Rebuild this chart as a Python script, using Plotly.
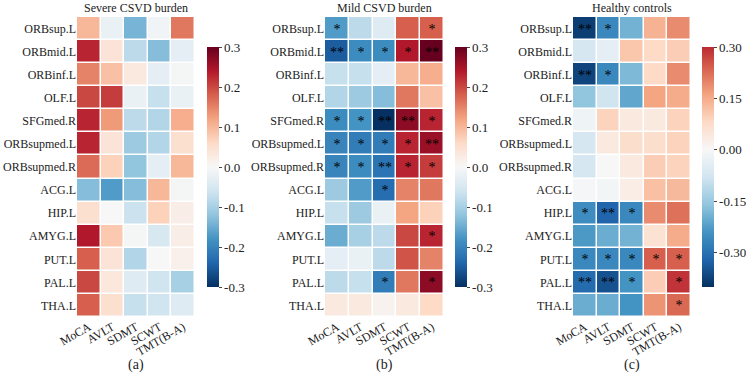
import plotly.graph_objects as go
from plotly.colors import sample_colorscale

regions = ["ORBsup.L", "ORBmid.L", "ORBinf.L", "OLF.L", "SFGmed.R", "ORBsupmed.L",
           "ORBsupmed.R", "ACG.L", "HIP.L", "AMYG.L", "PUT.L", "PAL.L", "THA.L"]
tests = ["MoCA", "AVLT", "SDMT", "SCWT", "TMT(B-A)"]

severe = [
    [0.10, -0.02, -0.14, -0.01, 0.16],
    [0.23, 0.04, -0.08, -0.13, -0.03],
    [0.15, 0.09, 0.03, -0.03, -0.005],
    [0.20, 0.21, -0.02, -0.07, -0.02],
    [0.23, 0.13, -0.08, -0.09, 0.11],
    [0.23, 0.04, -0.11, -0.09, 0.05],
    [0.17, 0.07, -0.12, -0.03, 0.10],
    [-0.13, -0.17, -0.13, 0.10, -0.005],
    [0.05, 0.0, -0.065, 0.07, 0.02],
    [0.24, 0.08, -0.005, -0.05, 0.02],
    [0.18, 0.04, -0.09, 0.0, 0.015],
    [0.20, 0.035, -0.04, -0.06, -0.10],
    [0.18, 0.05, -0.07, -0.06, -0.04],
]
severe_sig = [[""] * 5 for _ in regions]

mild = [
    [-0.17, -0.08, -0.04, 0.18, 0.18],
    [-0.25, -0.19, -0.19, 0.24, 0.30],
    [-0.07, -0.07, -0.03, 0.10, 0.11],
    [-0.09, -0.11, -0.13, 0.16, 0.09],
    [-0.19, -0.18, -0.30, 0.27, 0.23],
    [-0.20, -0.21, -0.21, 0.23, 0.26],
    [-0.20, -0.19, -0.22, 0.23, 0.21],
    [-0.11, -0.17, -0.23, 0.15, 0.16],
    [-0.07, -0.11, -0.02, 0.12, 0.07],
    [-0.15, -0.10, -0.08, 0.20, 0.23],
    [-0.03, -0.02, -0.08, 0.19, 0.15],
    [-0.08, -0.07, -0.21, 0.16, 0.27],
    [0.03, 0.03, 0.01, 0.03, 0.06],
]
mild_sig = [
    ["*", "", "", "", "*"],
    ["**", "*", "*", "*", "**"],
    ["", "", "", "", ""],
    ["", "", "", "", ""],
    ["*", "*", "**", "**", "*"],
    ["*", "*", "*", "*", "**"],
    ["*", "*", "**", "*", "*"],
    ["", "", "*", "", ""],
    ["", "", "", "", ""],
    ["", "", "", "", "*"],
    ["", "", "", "", ""],
    ["", "", "*", "", "*"],
    ["", "", "", "", ""],
]

healthy = [
    [-0.38, -0.26, -0.19, 0.14, 0.19],
    [-0.07, -0.04, 0.11, 0.08, 0.10],
    [-0.37, -0.26, -0.18, 0.08, 0.19],
    [-0.16, -0.08, -0.21, 0.16, 0.15],
    [-0.02, 0.09, 0.04, 0.04, 0.09],
    [-0.07, 0.04, 0.07, 0.07, 0.09],
    [-0.07, 0.0, 0.04, 0.10, 0.09],
    [-0.005, -0.01, 0.03, 0.12, 0.13],
    [-0.25, -0.32, -0.26, 0.19, 0.22],
    [-0.23, -0.20, -0.19, 0.06, 0.15],
    [-0.26, -0.26, -0.26, 0.24, 0.24],
    [-0.31, -0.35, -0.24, 0.10, 0.29],
    [-0.20, -0.20, -0.24, 0.18, 0.23],
]
healthy_sig = [
    ["**", "*", "", "", ""],
    ["", "", "", "", ""],
    ["**", "*", "", "", ""],
    ["", "", "", "", ""],
    ["", "", "", "", ""],
    ["", "", "", "", ""],
    ["", "", "", "", ""],
    ["", "", "", "", ""],
    ["*", "**", "*", "", ""],
    ["", "", "", "", ""],
    ["*", "*", "*", "*", "*"],
    ["**", "**", "*", "", "*"],
    ["", "", "", "", "*"],
]

titles = ["Severe CSVD burden", "Mild CSVD burden", "Healthy controls"]
panel_labels = ["(a)", "(b)", "(c)"]

rdbu_r = ['rgb(5,48,97)', 'rgb(33,102,172)', 'rgb(67,147,195)', 'rgb(146,197,222)',
          'rgb(209,229,240)', 'rgb(247,247,247)', 'rgb(253,219,199)', 'rgb(244,165,130)',
          'rgb(214,96,77)', 'rgb(178,24,43)', 'rgb(103,0,31)']
full_cs = [[i / 10, c] for i, c in enumerate(rdbu_r)]

# Truncated scale for panel (c): centered at 0, range -0.4..0.3 (of symmetric -0.4..0.4)
zmin_c, zmax_c = -0.4, 0.3
top_frac = (zmax_c - zmin_c) / 0.8
cs_c = []
for p, c in full_cs:
    if p <= top_frac:
        cs_c.append([p / top_frac, c])
cs_c.append([1.0, sample_colorscale(full_cs, [top_frac])[0]])

FONT = "Liberation Serif"
W, H = 746, 375
MR = 50
PW = W - MR


def fx(px):
    return px / PW


def fy(py):
    return 1 - py / H


heat_x = [(77, 195), (325, 444), (573, 691)]
cbar_x = [207, 455, 702]
y_top, y_bot = 17, 317

fig = go.Figure()
datasets = [(severe, severe_sig), (mild, mild_sig), (healthy, healthy_sig)]
for i, (z, sig) in enumerate(datasets):
    ax = "" if i == 0 else str(i + 1)
    if i < 2:
        cs, zmin, zmax = full_cs, -0.3, 0.3
        tv = [-0.3, -0.2, -0.1, 0.0, 0.1, 0.2, 0.3]
        tt = ["-0.3", "-0.2", "-0.1", "0.0", "0.1", "0.2", "0.3"]
    else:
        cs, zmin, zmax = cs_c, zmin_c, zmax_c
        tv = [-0.3, -0.15, 0.0, 0.15, 0.3]
        tt = ["-0.30", "-0.15", "0.00", "0.15", "0.30"]
    fig.add_trace(go.Heatmap(
        z=z, x=tests, y=regions, text=sig, texttemplate="%{text}",
        textfont=dict(family=FONT, size=14, color="black"),
        colorscale=cs, zmin=zmin, zmax=zmax, xgap=1.5, ygap=1.5,
        xaxis="x" + ax, yaxis="y" + ax,
        colorbar=dict(
            x=fx(cbar_x[i]), xanchor="left", y=fy(167), yanchor="middle",
            len=240 / H, lenmode="fraction", thickness=12, xpad=0, ypad=0,
            outlinewidth=0, ticks="outside", ticklen=3, tickwidth=1,
            tickvals=tv, ticktext=tt,
            tickfont=dict(family=FONT, size=13, color="#222"),
        ),
    ))
    x0, x1 = heat_x[i]
    fig.layout["xaxis" + ax] = dict(
        domain=[fx(x0), fx(x1)], anchor="y" + ax, tickangle=-30, automargin=False,
        showgrid=False, zeroline=False, showline=False, ticks="",
        tickfont=dict(family=FONT, size=12, color="#222"),
    )
    fig.layout["yaxis" + ax] = dict(
        domain=[fy(y_bot), fy(y_top)], anchor="x" + ax, autorange="reversed",
        automargin=False,
        showgrid=False, zeroline=False, showline=False, ticks="",
        tickfont=dict(family=FONT, size=12, color="#222"),
    )
    xc = fx((x0 + x1) / 2)
    fig.add_annotation(x=xc, y=fy(8), xref="paper", yref="paper", xanchor="center",
                       text=titles[i], showarrow=False, yanchor="middle",
                       font=dict(family=FONT, size=12, color="#222"))
    fig.add_annotation(x=xc, y=fy(365), xref="paper", yref="paper", xanchor="center",
                       text=panel_labels[i], showarrow=False, yanchor="middle",
                       font=dict(family=FONT, size=14, color="#222"))

fig.update_layout(width=W, height=H, margin=dict(l=0, r=MR, t=0, b=0, autoexpand=False),
                  paper_bgcolor="white", plot_bgcolor="white")
fig.write_html("out.html", config={"displayModeBar": False},
               post_script="document.body.style.margin='0';document.body.style.overflow='hidden';")
